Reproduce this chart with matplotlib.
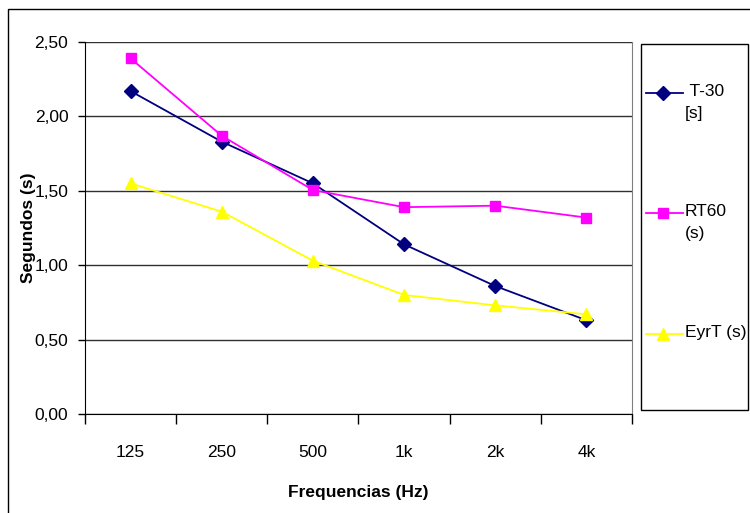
import numpy as np
from matplotlib import pyplot as plt
from matplotlib.lines import Line2D
from matplotlib.patches import Rectangle

plt.rcParams['font.family'] = ['Liberation Sans', 'DejaVu Sans']

freqs = ['125', '250', '500', '1k', '2k', '4k']
t30 = [2.17, 1.83, 1.55, 1.14, 0.86, 0.63]
rt60 = [2.39, 1.87, 1.505, 1.39, 1.40, 1.32]
eyrt = [1.55, 1.36, 1.03, 0.80, 0.73, 0.67]
yticks = [0.0, 0.5, 1.0, 1.5, 2.0, 2.5]
ytick_labels = ['0,00', '0,50', '1,00', '1,50', '2,00', '2,50']

series = [
    (' T-30\n[s]', t30, '#000080', 'D', 7),
    ('RT60\n(s)', rt60, '#FF00FF', 's', 7),
    ('EyrT (s)', eyrt, '#FFFF00', '^', 8),
]

W, H = 750, 513
fig = plt.figure(figsize=(7.5, 5.13), dpi=100)
ax = fig.add_axes([85 / W, 1 - 414 / H, (632 - 85) / W, (414 - 42) / H])

x = np.arange(len(freqs))
for label, vals, color, marker, ms in series:
    ax.plot(x, vals, color=color, marker=marker, markersize=ms, lw=1.3, zorder=3)

ax.set_xlim(-0.5, len(freqs) - 0.5)
ax.set_ylim(0, 2.5)
ax.set_yticks(yticks)
ax.set_yticklabels(ytick_labels, fontsize=12.5)
ax.set_xticks(x)
ax.set_xticklabels(freqs, fontsize=12.5)
ax.set_xticks(np.arange(-0.5, len(freqs)), minor=True)
ax.tick_params(axis='x', which='major', length=0, pad=22)
ax.tick_params(axis='x', which='minor', length=7, direction='out', width=1)
ax.tick_params(axis='y', length=5, width=1, pad=7)
ax.yaxis.grid(True, color='#303030', lw=1)
ax.set_axisbelow(True)
for side in ['left', 'bottom']:
    ax.spines[side].set_color('black')
ax.spines['top'].set_visible(False)
ax.spines['right'].set_color('#808080')

ax.set_ylabel('Segundos (s)', fontsize=12.5, fontweight='bold', va='center')
ax.yaxis.set_label_coords(-0.104, 0.5)
ax.set_xlabel('Frequencias (Hz)', fontsize=12.5, fontweight='bold', va='center')
ax.xaxis.set_label_coords(0.5, -0.212)

# outer chart border
fig.add_artist(Rectangle((8 / W, -0.2), 1.2, 1.2 - 9 / H, transform=fig.transFigure,
                         fill=False, edgecolor='black', lw=1))

# legend box
fig.add_artist(Rectangle((641 / W, 1 - 410 / H), (748 - 641) / W, (410 - 44) / H,
                         transform=fig.transFigure, fill=False, edgecolor='black', lw=1))
leg_y = [93, 213, 334]
for (label, vals, color, marker, ms), yy in zip(series, leg_y):
    fy = 1 - yy / H
    fig.add_artist(Line2D([646 / W, 663 / W, 683 / W], [fy, fy, fy], transform=fig.transFigure,
                          color=color, marker=marker, markersize=ms, markevery=[1], lw=1.3))
    fig.text(685 / W, fy + 9 / H, label, fontsize=12.5, va='top', ha='left', linespacing=1.55)

fig.savefig('out.png', dpi=100)
